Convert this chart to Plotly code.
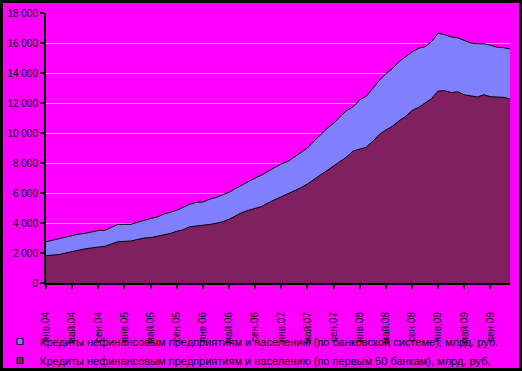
import plotly.graph_objects as go

# monthly data, Jan 2004 .. Dec 2009 (72 months), bn rub
banking_system = [
    2750, 2850, 3000, 3100, 3180, 3260, 3310, 3400, 3500, 3510, 3700, 3900,
    3910, 3910, 4050, 4200, 4300, 4400, 4600, 4710, 4850, 5050, 5250, 5380,
    5400, 5580, 5700, 5880, 6050, 6300, 6550, 6800, 7000, 7200, 7450, 7750,
    7950, 8100, 8400, 8700, 9000, 9450, 9900, 10300, 10650, 11100, 11500, 11750,
    12200, 12450, 13000, 13500, 13950, 14300, 14750, 15100, 15400, 15650, 15750, 16100,
    16650, 16550, 16400, 16350, 16150, 16000, 15950, 15950, 15850, 15720, 15690, 15600,
]
top50_banks = [
    1820, 1850, 1900, 2000, 2100, 2200, 2280, 2340, 2380, 2450, 2600, 2750,
    2780, 2800, 2900, 3000, 3020, 3100, 3180, 3300, 3450, 3550, 3750, 3800,
    3820, 3900, 3980, 4080, 4250, 4500, 4700, 4850, 4950, 5100, 5350, 5550,
    5700, 5900, 6150, 6350, 6600, 6900, 7200, 7550, 7800, 8100, 8400, 8800,
    8950, 9050, 9450, 9900, 10200, 10450, 10800, 11100, 11500, 11700, 12000, 12300,
    12800, 12820, 12700, 12750, 12550, 12450, 12400, 12550, 12420, 12400, 12380, 12270,
]
months = list(range(len(banking_system)))
tick_positions = list(range(0, 72, 4))
tick_labels = [f"{m}.{y:02d}" for y in range(4, 10) for m in ("янв", "май", "сен")]

name_total = "Кредиты нефинансовым предприятиям и населению (по банковской системе), млрд. руб."
name_top50 = "Кредиты нефинансовым предприятиям и населению (по первым 50 банкам), млрд. руб."

c_total = "#8080FF"
c_top50 = "#802060"
bg = "#FF00FF"

fig = go.Figure()
fig.add_trace(go.Scatter(x=months, y=banking_system, mode="lines", fill="tozeroy",
                         fillcolor=c_total, line=dict(color="black", width=1),
                         showlegend=False, hoverinfo="skip"))
fig.add_trace(go.Scatter(x=months, y=top50_banks, mode="lines", fill="tozeroy",
                         fillcolor=c_top50, line=dict(color="black", width=1),
                         showlegend=False, hoverinfo="skip"))
# legend entries
fig.add_trace(go.Scatter(x=[None], y=[None], mode="markers", name=name_total,
                         marker=dict(symbol="square", size=6, color=c_total,
                                     line=dict(color="black", width=1))))
fig.add_trace(go.Scatter(x=[None], y=[None], mode="markers", name=name_top50,
                         marker=dict(symbol="square", size=6, color=c_top50,
                                     line=dict(color="black", width=1))))

W, H = 522, 371
L, R, T, B = 46, 12, 13, 88
pw, ph = W - L - R, H - T - B

def px_x(p):
    return (p - L) / pw

def px_y(p):
    return (H - B - p) / ph

fig.update_layout(
    width=W, height=H,
    margin=dict(l=L, r=R, t=T, b=B, autoexpand=False),
    paper_bgcolor=bg, plot_bgcolor=bg,
    separators=", ",
    font=dict(family="Liberation Sans, Arial, sans-serif", size=10, color="black"),
    xaxis=dict(range=[0, 71], tickmode="array", tickvals=tick_positions, ticktext=tick_labels,
               tickangle=-90, ticks="outside", ticklen=4, tickwidth=2, tickcolor="black",
               showline=True, linecolor="black", linewidth=2, showgrid=False, zeroline=False,
               ticklabelstandoff=19, tickfont=dict(size=10), automargin=False),
    yaxis=dict(range=[0, 18000], dtick=2000, tickformat=",.0f", ticks="outside", ticklen=4,
               tickwidth=2, tickcolor="black", showline=True, linecolor="black", linewidth=2,
               showgrid=True, gridcolor="#C0C0C0", gridwidth=1, zeroline=False,
               tickfont=dict(size=10), automargin=False),
    legend=dict(x=px_x(0), y=px_y(327), xanchor="left", yanchor="top",
                bgcolor="rgba(0,0,0,0)", font=dict(size=11), tracegroupgap=0),
    shapes=[dict(type="rect", xref="paper", yref="paper",
                 x0=px_x(1.5), x1=px_x(W - 1.5), y0=px_y(H - 1.5), y1=px_y(1.5),
                 line=dict(color="black", width=3), fillcolor="rgba(0,0,0,0)")],
)

fig.write_html("out.html", config={"displayModeBar": False},
               post_script="document.body.style.margin='0';document.body.style.overflow='hidden';")
